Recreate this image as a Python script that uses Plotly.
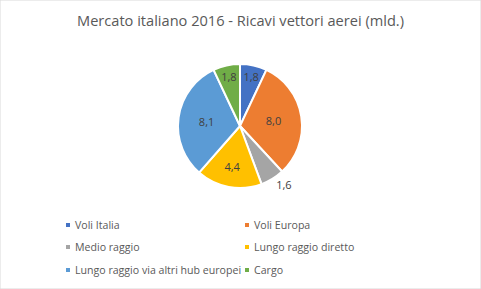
import plotly.graph_objects as go

labels = ["Voli Italia", "Voli Europa", "Medio raggio", "Lungo raggio diretto",
          "Lungo raggio via altri hub europei", "Cargo"]
values = [1.8, 8.0, 1.6, 4.4, 8.1, 1.8]
text_labels = ["1,8", "8,0", "1,6", "4,4", "8,1", "1,8"]
colors = ["#4472C4", "#ED7D31", "#A5A5A5", "#FFC000", "#5B9BD5", "#70AD47"]
positions = ["inside", "inside", "outside", "inside", "inside", "inside"]

W, H = 481, 289
fig = go.Figure(go.Pie(
    labels=labels, values=values, text=text_labels, textinfo="text",
    textposition=positions, insidetextorientation="horizontal",
    sort=False, direction="clockwise", rotation=0,
    marker=dict(colors=colors, line=dict(color="white", width=2)),
    textfont=dict(family="Open Sans", size=11, color="#404040"),
    outsidetextfont=dict(family="Open Sans", size=11, color="#404040"),
    insidetextfont=dict(family="Open Sans", size=11, color="#404040"),
    domain=dict(x=[178/W, 302/W], y=[1-190/H, 1-62/H]),
    hoverinfo="label+value",
    showlegend=False,
))

# legend drawn as small squares + text, two columns
shapes = [dict(type="rect", xref="paper", yref="paper", x0=0, y0=0, x1=1, y1=1,
               line=dict(color="#D9D9D9", width=1))]
annotations = []
col_x = [66, 245]
row_y = [225, 247, 270]
for i, (lab, col) in enumerate(zip(labels, colors)):
    cx = col_x[i % 2]
    cy = row_y[i // 2]
    shapes.append(dict(type="rect", xref="paper", yref="paper",
                       x0=cx/W, x1=(cx+4)/W, y0=1-(cy+2)/H, y1=1-(cy-2)/H,
                       fillcolor=col, line=dict(width=0)))
    annotations.append(dict(text=lab, xref="paper", yref="paper",
                            x=(cx+7)/W, y=1-cy/H, xanchor="left", yanchor="middle",
                            showarrow=False,
                            font=dict(family="Open Sans", size=10.6, color="#595959")))

fig.update_layout(
    width=W, height=H, margin=dict(l=0, r=0, t=0, b=0),
    paper_bgcolor="white", plot_bgcolor="white",
    title=dict(text="Mercato italiano 2016 - Ricavi vettori aerei (mld.)",
               x=0.5, xanchor="center", y=1-21/H, yanchor="middle",
               font=dict(family="Open Sans", size=14.6, color="#595959")),
    shapes=shapes, annotations=annotations,
)
fig.write_html("out.html")
